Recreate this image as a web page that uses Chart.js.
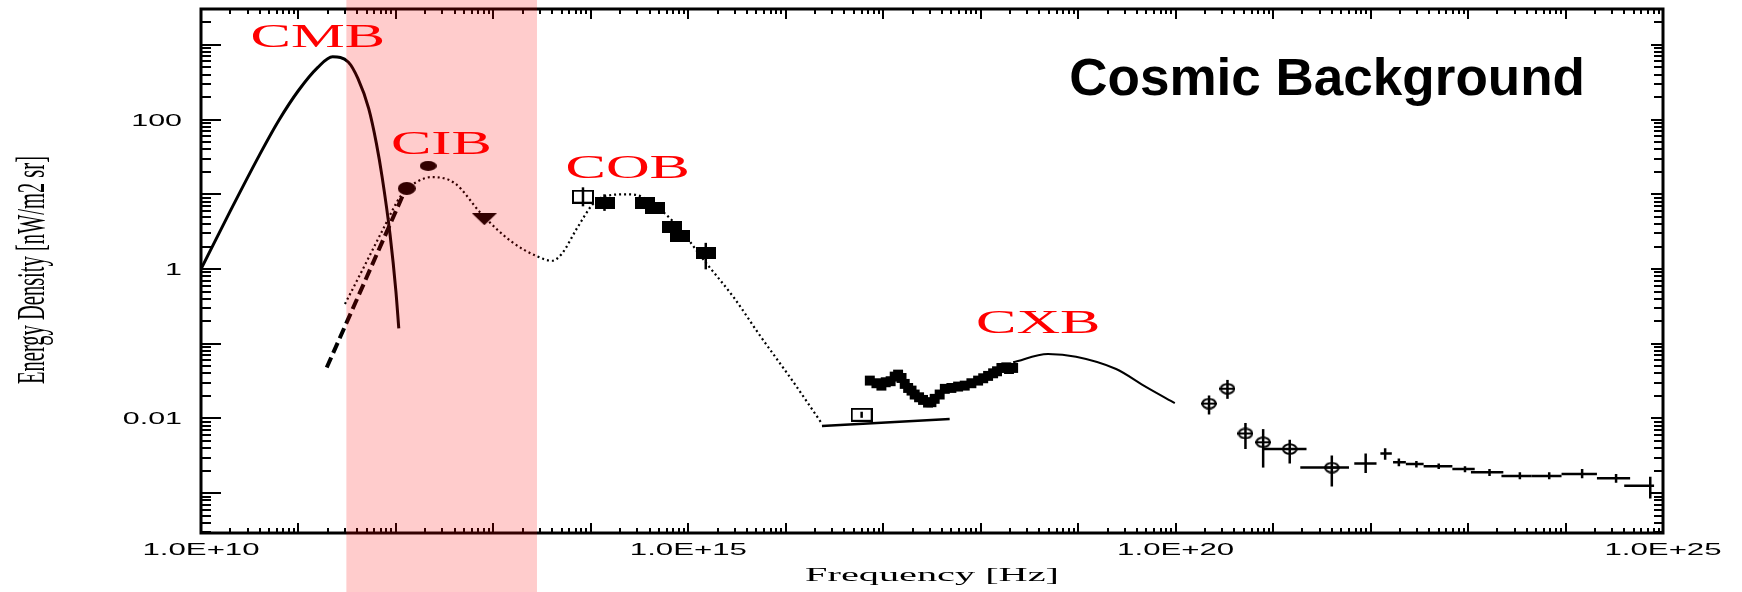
<!DOCTYPE html>
<html>
<head>
<meta charset="utf-8">
<script src="https://cdn.jsdelivr.net/npm/chart.js@4.4.1/dist/chart.umd.min.js"></script>
<style>
  html, body { margin: 0; padding: 0; background: #fff; }
  #wrap { width: 1742px; height: 592px; }
</style>
</head>
<body>
<div id="wrap"><canvas id="bgChart" width="1742" height="592"></canvas></div>
<script>
// Frequency in Hz, energy density in nW/m2 sr

// CMB black body curve
const cmbNu = [1.0e10, 2.0e10, 4.0e10, 6.3e10, 1.0e11, 1.58e11, 2.24e11, 3.24e11, 4.07e11, 5.25e11, 6.3e11, 7.24e11, 8.7e11, 1.0e12, 1.07e12];
const cmbE  = [1.0, 6.0, 34, 98, 245, 500, 692, 589, 355, 141, 48, 16.6, 2.9, 0.5, 0.16];

// CIB power law (dashed)
const cibLawNu = [1.95e11, 1.17e12];
const cibLawE  = [0.048, 9.5];

// CIB + COB model (dotted)
const modelNu = [3.0e11, 4.3e11, 7.2e11, 1.15e12, 1.66e12, 2.35e12, 4.0e12, 7.6e12, 1.55e13, 2.8e13, 4.0e13, 5.0e13, 7.2e13, 1.05e14, 1.35e14, 2.35e14, 3.3e14, 6.9e14, 1.55e15, 2.95e15, 5.4e15, 1.17e16, 2.35e16];
const modelE  = [0.34, 0.85, 3.2, 10, 14.8, 17, 14.1, 5.4, 2.3, 1.48, 1.29, 1.58, 3.5, 7.4, 9.3, 10, 9.3, 4.4, 1.17, 0.41, 0.13, 0.032, 0.0085];

// CIB measurements
const cibDotNu = [1.29e12, 2.14e12];
const cibDotE  = [12, 24];
const cibLimNu = [8.07e12];
const cibLimE  = [4.64];

// COB measurements
const cobOpenNu = [8.3e13];
const cobOpenE  = [9.3];
const cobOpenLo = [6.9];
const cobOpenHi = [12.4];
const cobNu = [1.38e14, 3.63e14, 4.57e14, 6.76e14, 8.13e14, 1.51e15];
const cobE  = [7.6, 7.6, 6.5, 3.6, 2.8, 1.62];
const cobLo = [6.0, 7.0, 6.0, 3.2, 2.5, 0.99];
const cobHi = [10.0, 8.3, 7.0, 4.1, 3.1, 2.24];

// EUV limit line and point
const euvLineNu = [2.35e16, 4.8e17];
const euvLineE  = [0.0079, 0.0098];
const euvNu = [6.0e16];
const euvE  = [0.0112];
const euvLo = [0.0102];
const euvHi = [0.0123];

// CXB data
const cxbNu = [7.28e16, 8.51e16, 9.57e16, 1.06e17, 1.19e17, 1.31e17, 1.42e17, 1.54e17, 1.66e17, 1.80e17, 1.95e17, 2.10e17, 2.33e17, 2.56e17, 2.88e17, 3.12e17, 3.37e17, 3.79e17, 4.28e17, 5.00e17, 5.86e17, 6.85e17, 8.02e17, 9.40e17, 1.06e18, 1.19e18, 1.34e18, 1.47e18, 1.63e18, 1.83e18, 1.95e18, 2.15e18];
const cxbE  = [0.0321, 0.0296, 0.0275, 0.0305, 0.0315, 0.0363, 0.0386, 0.0348, 0.0290, 0.0256, 0.0236, 0.0209, 0.0192, 0.0177, 0.0163, 0.0165, 0.0183, 0.0209, 0.0249, 0.0256, 0.0267, 0.0275, 0.0296, 0.0321, 0.0345, 0.0371, 0.0402, 0.0428, 0.0474, 0.0483, 0.0459, 0.0474];

// CXB model
const cxbModelNu = [2.15e18, 4.9e18, 9.5e18, 2.45e19, 5.0e19, 9.8e19];
const cxbModelE  = [0.0564, 0.0728, 0.0671, 0.0459, 0.0262, 0.0160];

// gamma rays, circles
const gamANu   = [2.2e20, 3.4e20, 5.2e20, 7.9e20, 1.48e21, 4.0e21];
const gamAE    = [0.0158, 0.025, 0.0063, 0.0048, 0.0039, 0.0022];
const gamALo   = [0.0113, 0.0183, 0.0039, 0.0022, 0.0025, 0.00123];
const gamAHi   = [0.0203, 0.0328, 0.0087, 0.0072, 0.0052, 0.0032];
const gamANuLo = [2.2e20, 3.4e20, 5.2e20, 7.9e20, 7.9e20, 1.9e21];
const gamANuHi = [2.2e20, 3.4e20, 5.2e20, 7.9e20, 2.2e21, 6.0e21];

// gamma rays, crosses
const gamBNu   = [8.9e21, 1.41e22, 1.95e22, 2.95e22, 5.0e22, 9.3e22, 1.66e23, 3.4e23, 6.8e23, 1.48e24, 3.3e24, 7.4e24];
const gamBE    = [0.0025, 0.0034, 0.0026, 0.00245, 0.0023, 0.0021, 0.0019, 0.0017, 0.0017, 0.0018, 0.00158, 0.00126];
const gamBLo   = [0.00186, 0.0028, 0.0023, 0.0022, 0.0021, 0.0019, 0.0017, 0.00153, 0.00153, 0.00158, 0.00138, 0.00085];
const gamBHi   = [0.0034, 0.0040, 0.0029, 0.0027, 0.0025, 0.0023, 0.0021, 0.0019, 0.0019, 0.0021, 0.0018, 0.00166];
const gamBNuLo = [6.8e21, 1.26e22, 1.7e22, 2.3e22, 3.5e22, 6.9e22, 1.07e23, 2.2e23, 4.5e23, 9.1e23, 2.1e24, 4.0e24];
const gamBNuHi = [1.15e22, 1.65e22, 2.3e22, 3.5e22, 6.9e22, 1.17e23, 2.3e23, 4.5e23, 9.1e23, 2.1e24, 4.6e24, 8.1e24];

// axis
const xMin = 1e10, xMax = 1e25;
const yMin = 2.93e-4, yMax = 3.02e3;
const xTickLabels = [[1e10, '1.0E+10'], [1e15, '1.0E+15'], [1e20, '1.0E+20'], [1e25, '1.0E+25']];
const yTickLabels = [[100, '100'], [1, '1'], [0.01, '0.01']];

// region labels
const bandNu = [3.1e11, 2.8e13];
const regionText = ['CMB', 'CIB', 'COB', 'CXB'];
const regionNu   = [1.58e11, 2.93e12, 2.39e14, 3.89e18];
const regionE    = [940, 34.1, 16.3, 0.140];

const pts = (xs, ys) => xs.map((v, i) => ({ x: v, y: ys[i] }));

function symbol(w, h, draw) {
    const c = document.createElement('canvas');
    c.width = w; c.height = h;
    const g = c.getContext('2d');
    g.fillStyle = '#000'; g.strokeStyle = '#000'; g.lineWidth = 2;
    draw(g, w, h);
    return c;
}
const boxFilled = symbol(20, 12, (g, w, h) => g.fillRect(0, 0, w, h));
const boxOpen = symbol(22, 14, (g, w, h) => g.strokeRect(1, 1, w - 2, h - 2));
const ringBar = symbol(16, 12, (g, w, h) => {
    g.beginPath();
    g.ellipse(w / 2, h / 2, w / 2 - 1.2, h / 2 - 1.2, 0, 0, 2 * Math.PI);
    g.moveTo(0, h / 2); g.lineTo(w, h / 2);
    g.stroke();
});
const dotBig = symbol(18, 13, (g, w, h) => { g.beginPath(); g.ellipse(w / 2, h / 2, w / 2, h / 2, 0, 0, 2 * Math.PI); g.fill(); });
const dotSmall = symbol(17, 10, (g, w, h) => { g.beginPath(); g.ellipse(w / 2, h / 2, w / 2, h / 2, 0, 0, 2 * Math.PI); g.fill(); });
const triDown = symbol(25, 12, (g, w, h) => { g.beginPath(); g.moveTo(0, 0); g.lineTo(w, 0); g.lineTo(w / 2, h); g.closePath(); g.fill(); });

function logTicks(min, max) {
    const out = [];
    for (let e = Math.floor(Math.log10(min)); e <= Math.ceil(Math.log10(max)); e++) {
        for (let m = 1; m < 10; m++) {
            const v = m * Math.pow(10, e);
            if (v >= min * 0.999 && v <= max * 1.001) out.push({ v, major: m === 1 });
        }
    }
    return out;
}

function stretchText(ctx, txt, x, y, sx, align) {
    ctx.save();
    ctx.translate(x, y);
    ctx.scale(sx, 1);
    ctx.textAlign = align;
    ctx.fillText(txt, 0, 0);
    ctx.restore();
}

// error bars from dataset.errY / errX ([lo, hi] pairs in data units)
const errorBars = {
    id: 'errorBars',
    afterDatasetsDraw(chart) {
        const { ctx, scales: { x, y } } = chart;
        ctx.save();
        ctx.strokeStyle = '#000';
        ctx.lineWidth = 2.5;
        chart.data.datasets.forEach(ds => {
            if (!ds.errY && !ds.errX) return;
            ds.data.forEach((p, i) => {
                const px = x.getPixelForValue(p.x), py = y.getPixelForValue(p.y);
                ctx.beginPath();
                if (ds.errY) {
                    ctx.moveTo(px, y.getPixelForValue(ds.errY[i][0]));
                    ctx.lineTo(px, y.getPixelForValue(ds.errY[i][1]));
                }
                if (ds.errX && ds.errX[i][0] !== ds.errX[i][1]) {
                    ctx.moveTo(x.getPixelForValue(ds.errX[i][0]), py);
                    ctx.lineTo(x.getPixelForValue(ds.errX[i][1]), py);
                }
                ctx.stroke();
            });
        });
        ctx.restore();
    }
};

// IDL style frame, inward ticks, texts and the pink band on top
const framePlugin = {
    id: 'frame',
    afterDraw(chart) {
        const { ctx, chartArea: a, scales: { x, y } } = chart;
        ctx.save();
        ctx.strokeStyle = '#000';
        ctx.lineWidth = 2;
        ctx.beginPath();
        logTicks(x.min, x.max).forEach(t => {
            const px = Math.round(x.getPixelForValue(t.v));
            const len = t.major ? 10 : 5;
            ctx.moveTo(px, a.bottom); ctx.lineTo(px, a.bottom - len);
            ctx.moveTo(px, a.top); ctx.lineTo(px, a.top + len);
        });
        logTicks(y.min, y.max).forEach(t => {
            const py = Math.round(y.getPixelForValue(t.v));
            ctx.moveTo(a.left, py); ctx.lineTo(a.left + (t.major ? 20 : 10), py);
            ctx.moveTo(a.right, py); ctx.lineTo(a.right - (t.major ? 12 : 9), py);
        });
        ctx.stroke();
        ctx.lineWidth = 3;
        ctx.strokeRect(a.left, a.top, a.right - a.left, a.bottom - a.top);

        // tick labels
        ctx.fillStyle = '#000';
        ctx.font = '16px "Liberation Sans"';
        ctx.textBaseline = 'alphabetic';
        xTickLabels.forEach(([v, s]) => stretchText(ctx, s, x.getPixelForValue(v), a.bottom + 22, 1.95, 'center'));
        yTickLabels.forEach(([v, s]) => stretchText(ctx, s, a.left - 19, y.getPixelForValue(v) + 6, 1.9, 'right'));

        // axis titles
        ctx.font = '19px "Liberation Serif"';
        stretchText(ctx, 'Frequency [Hz]', 932, 581, 2.12, 'center');
        ctx.save();
        ctx.translate(33, 270);
        ctx.scale(2.0, 1);
        ctx.rotate(-Math.PI / 2);
        ctx.font = '20.5px "Liberation Serif"';
        ctx.textAlign = 'center';
        ctx.textBaseline = 'middle';
        ctx.fillText('Energy Density [nW/m2 sr]', 0, 0);
        ctx.restore();

        // title
        ctx.font = 'bold 51px "Liberation Sans"';
        stretchText(ctx, 'Cosmic Background', 1585, 95, 1.04, 'right');

        // region labels
        ctx.fillStyle = '#ff0000';
        ctx.font = '34px "Liberation Serif"';
        regionText.forEach((s, i) => {
            stretchText(ctx, s, x.getPixelForValue(regionNu[i]), y.getPixelForValue(regionE[i]), 1.78, 'center');
        });

        // translucent band over everything
        const bx0 = x.getPixelForValue(bandNu[0]), bx1 = x.getPixelForValue(bandNu[1]);
        ctx.fillStyle = 'rgba(255, 0, 0, 0.2)';
        ctx.fillRect(bx0, 0, bx1 - bx0, chart.height);
        ctx.restore();
    }
};

const lineDs = (label, xs, ys, extra) => Object.assign({
    label, data: pts(xs, ys), showLine: true, pointRadius: 0,
    borderColor: '#000', borderWidth: 2, fill: false,
    cubicInterpolationMode: 'monotone'
}, extra);

const symDs = (label, xs, ys, style, extra) => Object.assign({
    label, data: pts(xs, ys), showLine: false, pointRadius: 6,
    pointStyle: style, borderColor: '#000', backgroundColor: '#000'
}, extra);

new Chart(document.getElementById('bgChart'), {
    type: 'scatter',
    data: {
        datasets: [
            lineDs('CMB', cmbNu, cmbE, { borderWidth: 3 }),
            lineDs('CIB power law', cibLawNu, cibLawE, { borderWidth: 4, borderDash: [11, 5] }),
            lineDs('Model', modelNu, modelE, { borderWidth: 2.2, borderDash: [2, 3] }),
            lineDs('EUV', euvLineNu, euvLineE, { borderWidth: 2.5 }),
            lineDs('CXB model', cxbModelNu, cxbModelE, { borderWidth: 2 }),
            lineDs('CXB', cxbNu, cxbE, { borderWidth: 5, pointRadius: 3.5, pointStyle: 'rect', backgroundColor: '#000', cubicInterpolationMode: 'default' }),
            symDs('CIB dots', cibDotNu.slice(0, 1), cibDotE.slice(0, 1), dotBig),
            symDs('CIB dots 2', cibDotNu.slice(1), cibDotE.slice(1), dotSmall),
            symDs('CIB limit', cibLimNu, cibLimE, triDown),
            symDs('COB open', cobOpenNu, cobOpenE, boxOpen, { errY: cobOpenLo.map((v, i) => [v, cobOpenHi[i]]) }),
            symDs('COB', cobNu, cobE, boxFilled, { errY: cobLo.map((v, i) => [v, cobHi[i]]) }),
            symDs('EUV point', euvNu, euvE, boxOpen, { errY: euvLo.map((v, i) => [v, euvHi[i]]) }),
            symDs('Gamma A', gamANu, gamAE, ringBar, {
                errY: gamALo.map((v, i) => [v, gamAHi[i]]),
                errX: gamANuLo.map((v, i) => [v, gamANuHi[i]])
            }),
            symDs('Gamma B', gamBNu, gamBE, 'circle', {
                pointRadius: 0,
                errY: gamBLo.map((v, i) => [v, gamBHi[i]]),
                errX: gamBNuLo.map((v, i) => [v, gamBNuHi[i]])
            })
        ]
    },
    options: {
        responsive: false,
        animation: false,
        events: [],
        layout: { padding: { left: 201, right: 79, top: 7, bottom: 59 } },
        plugins: {
            legend: { display: false },
            tooltip: { enabled: false }
        },
        scales: {
            x: { type: 'logarithmic', min: xMin, max: xMax, bounds: 'data', display: false },
            y: { type: 'logarithmic', min: yMin, max: yMax, bounds: 'data', display: false }
        }
    },
    plugins: [errorBars, framePlugin]
});
</script>
</body>
</html>
